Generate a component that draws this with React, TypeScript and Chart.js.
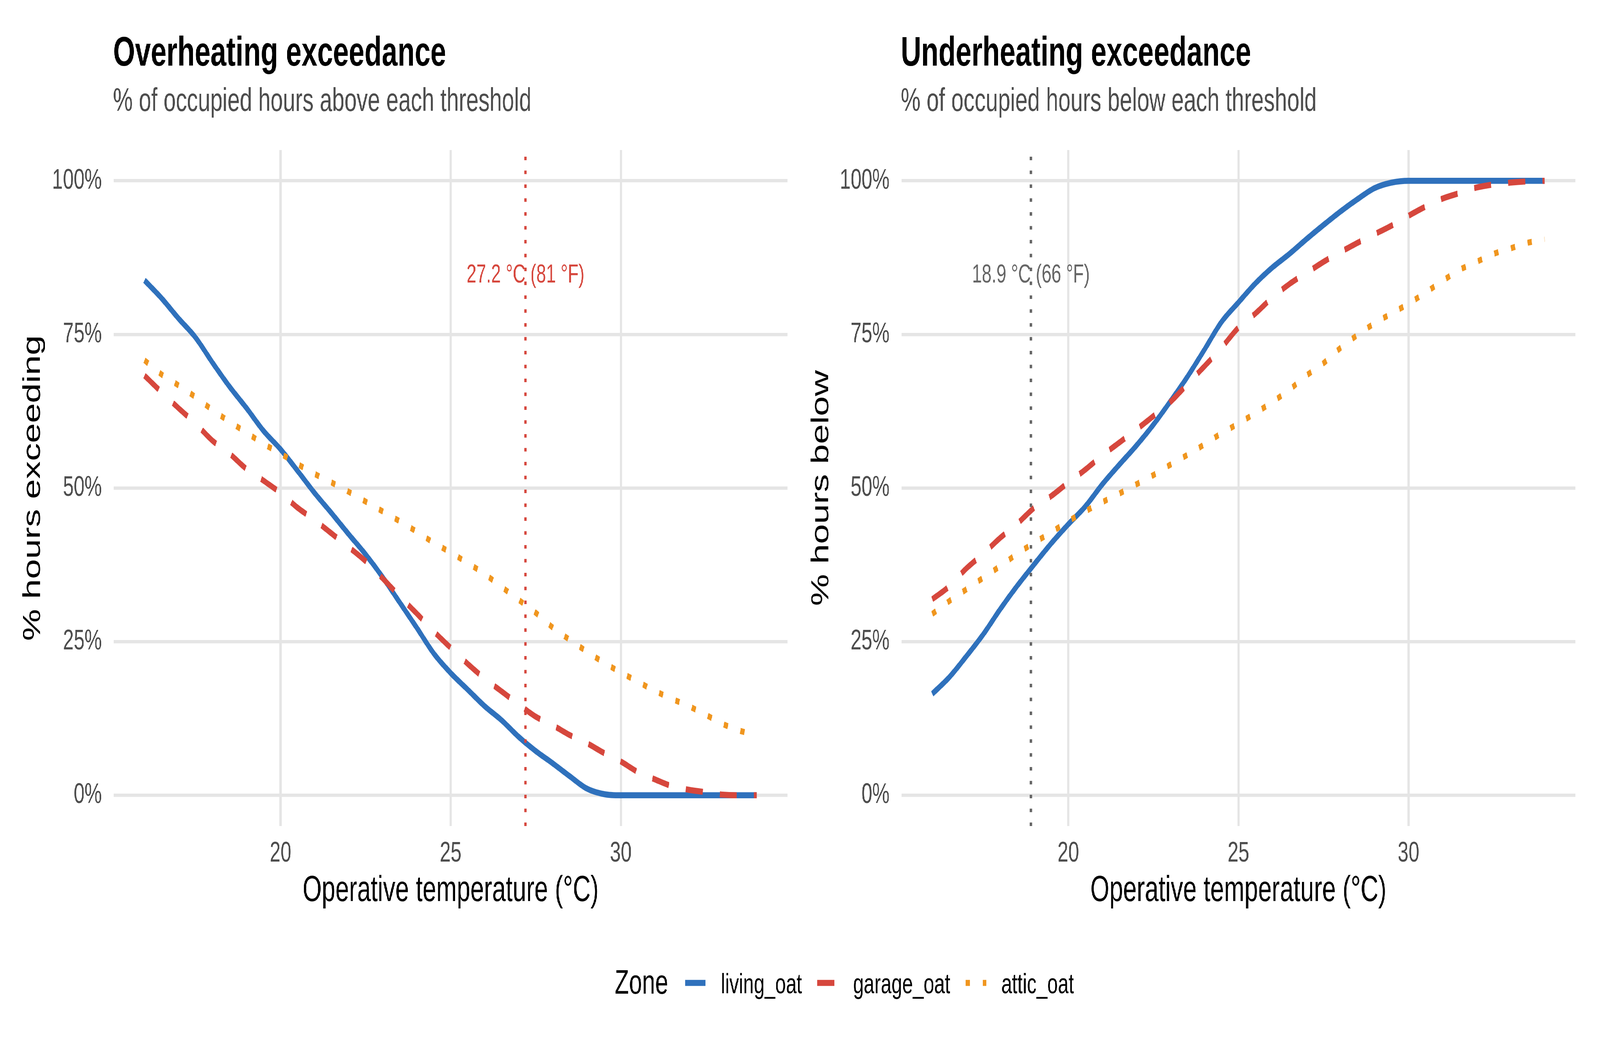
import React, { useEffect, useRef } from "react";
import { Chart, registerables } from "chart.js";

Chart.register(...registerables);

const FONT = '"Liberation Sans", Arial, Helvetica, sans-serif';

// ---------- data ----------
const TEMPS = [16, 16.5, 17, 17.5, 18, 18.5, 19, 19.5, 20, 20.5, 21, 21.5, 22, 22.5, 23, 23.5, 24, 24.5, 25, 25.5, 26, 26.5, 27, 27.5, 28, 28.5, 29, 29.5, 30, 30.5, 31, 31.5, 32, 32.5, 33, 33.5, 34];

const ZONES = ["living_oat", "garage_oat", "attic_oat"];
const ZONE_COLORS = ["#2F71BC", "#D6473D", "#F0961F"];
const ZONE_DASHES = [[], [64, 64], [16, 48]];

// % of hours exceeding each temperature
const OVER_LIVING = [83.8, 80.9, 77.6, 74.5, 70.4, 66.5, 63.0, 59.3, 56.3, 52.8, 49.2, 45.9, 42.5, 39.2, 35.5, 31.4, 27.3, 23.1, 19.9, 17.2, 14.5, 12.2, 9.5, 7.2, 5.2, 3.1, 1.1, 0.2, 0, 0, 0, 0, 0, 0, 0, 0, 0];
const OVER_GARAGE = [68.3, 65.6, 63.0, 60.5, 57.7, 55.6, 53.1, 51.2, 49.2, 46.8, 44.8, 42.6, 40.4, 38.1, 35.3, 32.4, 29.6, 26.7, 24.0, 21.4, 19.0, 16.9, 14.8, 12.8, 11.4, 9.8, 8.5, 6.9, 5.5, 3.8, 2.6, 1.5, 0.9, 0.5, 0.1, 0, 0];
const OVER_ATTIC = [70.8, 68.5, 66.7, 64.8, 62.7, 60.8, 59.0, 57.2, 55.6, 53.9, 52.3, 50.9, 49.4, 47.8, 46.2, 44.6, 42.9, 41.1, 39.5, 37.8, 36.0, 33.9, 31.8, 29.7, 27.3, 25.3, 23.4, 21.6, 20.0, 18.5, 17.0, 15.7, 14.5, 13.1, 11.6, 10.5, 9.8];

// % of hours below each temperature
const UNDER_LIVING = [16.5, 19.2, 22.6, 26.2, 30.3, 34.1, 37.6, 41.0, 44.1, 47.0, 50.6, 53.8, 56.9, 60.3, 64.1, 68.1, 72.5, 77.0, 80.2, 83.3, 85.9, 88.1, 90.5, 92.8, 95.0, 97.0, 98.8, 99.7, 100, 100, 100, 100, 100, 100, 100, 100, 100];
const UNDER_GARAGE = [31.9, 34.0, 36.9, 39.3, 41.9, 44.2, 46.8, 48.7, 50.9, 53.0, 55.3, 57.4, 59.5, 61.7, 64.0, 66.9, 69.8, 72.8, 76.1, 78.4, 81.0, 83.2, 85.0, 86.8, 88.4, 89.9, 91.3, 92.7, 94.3, 95.8, 97.1, 98.0, 98.9, 99.4, 99.7, 99.9, 100];
const UNDER_ATTIC = [29.5, 31.6, 33.5, 35.4, 37.3, 39.3, 41.1, 42.8, 44.6, 46.2, 47.7, 49.1, 50.6, 52.1, 53.8, 55.4, 57.1, 58.9, 60.5, 62.2, 64.0, 66.0, 68.3, 70.3, 72.8, 74.9, 76.8, 78.4, 80.0, 81.8, 83.7, 85.5, 86.8, 88.1, 89.0, 89.9, 90.5];

const X_TICKS = [20, 25, 30];
const Y_TICKS = [0, 25, 50, 75, 100];
const X_MIN = 15.1;
const X_MAX = 34.9;
const Y_MIN = -5;
const Y_MAX = 105;

const OVER_THRESHOLD = 27.2;
const OVER_LABEL = "27.2 °C (81 °F)";
const UNDER_THRESHOLD = 18.9;
const UNDER_LABEL = "18.9 °C (66 °F)";
const LABEL_Y = 85;

// ---------- layout (designed on a 6000 x 2700 figure) ----------
const FIG_W = 6000;
const FIG_H = 2700;
const CANVAS_W = 3000;
const CANVAS_H = 2400;
const LEGEND_TOP = 2400;

const decorPlugin = {
  id: "decor",
  afterDatasetsDraw(chart: any, _args: any, opts: any) {
    const { ctx, chartArea, scales } = chart;
    const x = scales.x.getPixelForValue(opts.threshold);
    ctx.save();
    ctx.strokeStyle = opts.color;
    ctx.lineWidth = 9;
    ctx.lineCap = "butt";
    ctx.setLineDash([9, 26.5]);
    ctx.beginPath();
    ctx.moveTo(x, chartArea.bottom);
    ctx.lineTo(x, chartArea.top);
    ctx.stroke();
    ctx.setLineDash([]);
    ctx.fillStyle = opts.color;
    ctx.font = `66px ${FONT}`;
    ctx.textAlign = "center";
    ctx.textBaseline = "alphabetic";
    ctx.fillText(opts.label, x, scales.y.getPixelForValue(opts.labelY) + 24);
    ctx.restore();
  },
  afterDraw(chart: any, _args: any, opts: any) {
    const { ctx, chartArea } = chart;
    ctx.save();
    ctx.textAlign = "left";
    ctx.textBaseline = "alphabetic";
    ctx.fillStyle = "#000000";
    ctx.font = `bold 106px ${FONT}`;
    ctx.fillText(opts.title, chartArea.left - 3, 168);
    ctx.fillStyle = "#4D4D4D";
    ctx.font = `83px ${FONT}`;
    ctx.fillText(opts.subtitle, chartArea.left - 3, 284);
    ctx.restore();
  },
};

type Panel = {
  title: string;
  subtitle: string;
  yTitle: string;
  series: number[][];
  threshold: number;
  thresholdColor: string;
  thresholdLabel: string;
  yAxisWidth: number;
  yTitlePad: number;
  padRight: number;
};

function makeConfig(p: Panel): any {
  return {
    type: "line",
    data: {
      datasets: ZONES.map((z, i) => ({
        label: z,
        data: TEMPS.map((t, k) => ({ x: t, y: p.series[i][k] })),
        borderColor: ZONE_COLORS[i],
        backgroundColor: ZONE_COLORS[i],
        borderWidth: 15.5,
        borderDash: ZONE_DASHES[i],
        borderCapStyle: "butt",
        borderJoinStyle: "round",
        pointRadius: 0,
        pointHoverRadius: 0,
        cubicInterpolationMode: "monotone",
        fill: false,
        order: ZONES.length - 1 - i,
      })),
    },
    options: {
      animation: false,
      responsive: false,
      maintainAspectRatio: false,
      devicePixelRatio: 1,
      events: [],
      layout: { padding: { top: 384, right: p.padRight, bottom: 36, left: 0 } },
      plugins: {
        legend: { display: false },
        tooltip: { enabled: false },
        title: { display: false },
        decor: {
          title: p.title,
          subtitle: p.subtitle,
          threshold: p.threshold,
          color: p.thresholdColor,
          label: p.thresholdLabel,
          labelY: LABEL_Y,
        },
      },
      scales: {
        x: {
          type: "linear",
          min: X_MIN,
          max: X_MAX,
          afterBuildTicks: (s: any) => {
            s.ticks = X_TICKS.map((v) => ({ value: v }));
          },
          afterFit: (s: any) => {
            s.height = 250;
          },
          ticks: {
            color: "#4D4D4D",
            font: { family: FONT, size: 73, lineHeight: 1 },
            padding: 34,
            maxRotation: 0,
            autoSkip: false,
            callback: (v: any) => String(v),
          },
          grid: { color: "#E5E5E5", lineWidth: 8.5, drawTicks: false },
          border: { display: false },
          title: {
            display: true,
            text: "Operative temperature (°C)",
            color: "#000000",
            font: { family: FONT, size: 92, lineHeight: 1 },
            padding: { top: 0, bottom: 37 },
          },
        },
        y: {
          type: "linear",
          min: Y_MIN,
          max: Y_MAX,
          afterBuildTicks: (s: any) => {
            s.ticks = Y_TICKS.map((v) => ({ value: v }));
          },
          afterFit: (s: any) => {
            s.width = p.yAxisWidth;
          },
          ticks: {
            color: "#4D4D4D",
            font: { family: FONT, size: 73, lineHeight: 1 },
            padding: 45,
            autoSkip: false,
            callback: (v: any) => `${v}%`,
          },
          grid: { color: "#E5E5E5", lineWidth: 8.5, drawTicks: false },
          border: { display: false },
          title: {
            display: true,
            text: p.yTitle,
            color: "#000000",
            font: { family: FONT, size: 92, lineHeight: 1 },
            padding: { top: p.yTitlePad, bottom: 0 },
          },
        },
      },
    },
    plugins: [decorPlugin],
  };
}

const LEFT_PANEL: Panel = {
  title: "Overheating exceedance",
  subtitle: "% of occupied hours above each threshold",
  yTitle: "% hours exceeding",
  series: [OVER_LIVING, OVER_GARAGE, OVER_ATTIC],
  threshold: OVER_THRESHOLD,
  thresholdColor: "#D6473D",
  thresholdLabel: OVER_LABEL,
  yAxisWidth: 427,
  yTitlePad: 79,
  padRight: 47,
};

const RIGHT_PANEL: Panel = {
  title: "Underheating exceedance",
  subtitle: "% of occupied hours below each threshold",
  yTitle: "% hours below",
  series: [UNDER_LIVING, UNDER_GARAGE, UNDER_ATTIC],
  threshold: UNDER_THRESHOLD,
  thresholdColor: "#666666",
  thresholdLabel: UNDER_LABEL,
  yAxisWidth: 381,
  yTitlePad: 35,
  padRight: 93,
};

export default function App() {
  const leftRef = useRef<HTMLCanvasElement | null>(null);
  const rightRef = useRef<HTMLCanvasElement | null>(null);
  const legendRef = useRef<HTMLCanvasElement | null>(null);

  // fit the 6000 x 2700 figure into whatever viewport the browser really has
  const vw = typeof window !== "undefined" && window.innerWidth ? window.innerWidth : FIG_W;
  const vh = typeof window !== "undefined" && window.innerHeight ? window.innerHeight : FIG_H;
  const sx = vw / FIG_W;
  const sy = vh / FIG_H;

  useEffect(() => {
    document.body.style.margin = "0";
    document.body.style.overflow = "hidden";
    const left = new Chart(leftRef.current as HTMLCanvasElement, makeConfig(LEFT_PANEL));
    const right = new Chart(rightRef.current as HTMLCanvasElement, makeConfig(RIGHT_PANEL));

    const lc = legendRef.current as HTMLCanvasElement;
    const ctx = lc.getContext("2d") as CanvasRenderingContext2D;
    ctx.clearRect(0, 0, lc.width, lc.height);
    ctx.save();
    ctx.translate(0, -LEGEND_TOP);
    ctx.fillStyle = "#000000";
    ctx.textAlign = "left";
    ctx.textBaseline = "alphabetic";
    ctx.font = `88px ${FONT}`;
    ctx.fillText("Zone", 2305, 2543);
    const keyStarts = [2569, 3065, 3621];
    const labelStarts = [2703, 3199, 3755];
    ZONES.forEach((z, i) => {
      ctx.strokeStyle = ZONE_COLORS[i];
      ctx.lineWidth = 15.5;
      ctx.lineCap = "butt";
      ctx.setLineDash(ZONE_DASHES[i]);
      ctx.beginPath();
      ctx.moveTo(keyStarts[i], 2515.5);
      ctx.lineTo(keyStarts[i] + 77, 2515.5);
      ctx.stroke();
      ctx.setLineDash([]);
      ctx.fillStyle = "#000000";
      ctx.font = `72px ${FONT}`;
      ctx.fillText(z, labelStarts[i], 2542);
    });
    ctx.restore();

    return () => {
      left.destroy();
      right.destroy();
    };
  }, []);

  return (
    <div
      style={{
        position: "absolute",
        left: 0,
        top: 0,
        width: vw,
        height: vh,
        overflow: "hidden",
        background: "#FFFFFF",
      }}
    >
      <div
        style={{
          position: "absolute",
          left: 0,
          top: 0,
          width: FIG_W,
          height: FIG_H,
          background: "#FFFFFF",
          transform: `scale(${sx}, ${sy})`,
          transformOrigin: "0 0",
        }}
      >
        <canvas
          ref={leftRef}
          width={CANVAS_W}
          height={CANVAS_H}
          style={{ position: "absolute", left: 0, top: 0, width: CANVAS_W, height: CANVAS_H }}
        />
        <canvas
          ref={rightRef}
          width={CANVAS_W}
          height={CANVAS_H}
          style={{ position: "absolute", left: 3000, top: 0, width: CANVAS_W, height: CANVAS_H }}
        />
        <canvas
          ref={legendRef}
          width={FIG_W}
          height={300}
          style={{ position: "absolute", left: 0, top: LEGEND_TOP, width: FIG_W, height: 300 }}
        />
      </div>
    </div>
  );
}
